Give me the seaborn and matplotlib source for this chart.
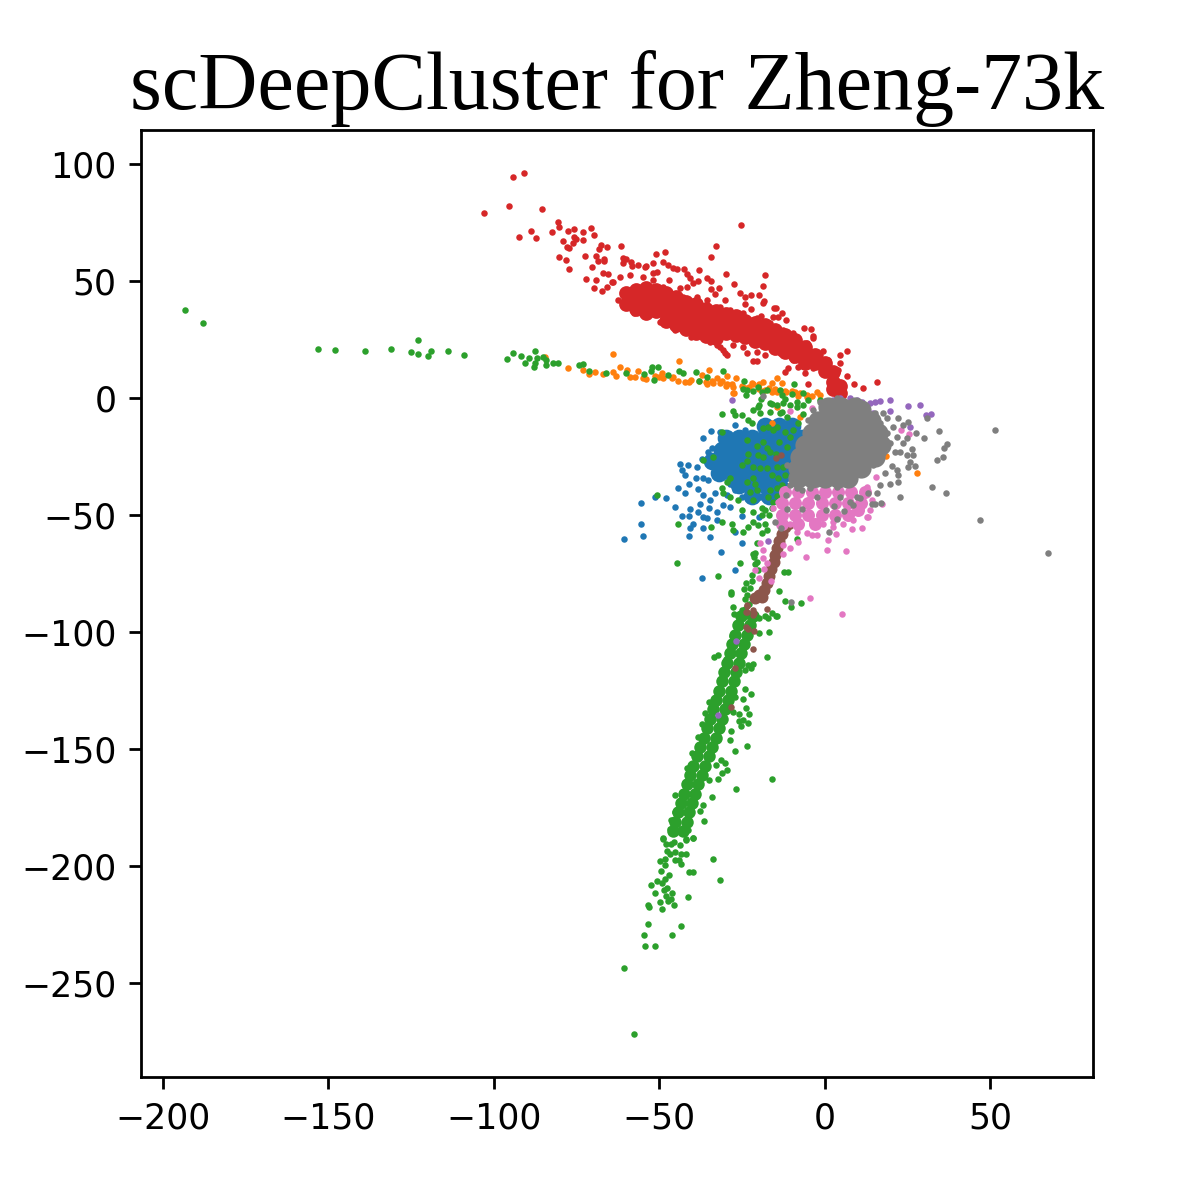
import numpy as np
import matplotlib
matplotlib.use("Agg")
import matplotlib.pyplot as plt
import seaborn as sns

# values: sparse points, then dense cores of each cluster
blue_pts = [(-55.7,-44.7),(-51.3,-42.2),(-47.9,-42.9),(-60.6,-60.2),(-55.4,-53.7),(-54.8,-59),(-45.3,-46.4),(-43.3,-50.4),
    (-40.8,-47.4),(-41,-50.4),(-38.4,-48.6),(-37.7,-45.3),(-44.3,-38.3),(-42.3,-40.7),(-41,-36.5),(-43.8,-28.3),(-43.1,-30.8),
    (-41.3,-28.8),(-42.3,-32.9),(-38.7,-29.3),(-38.9,-34.3),(-36.7,-34.3),(-35.2,-35),(-38.2,-39),(-36.7,-41.4),(-34.7,-43.6),
    (-34.9,-47.1),(-32.7,-48.6),(-36.7,-50.7),(-35.5,-51.4),(-32.7,-52.1),(-39.7,-53.6),(-40.8,-55.7),(-41,-59),(-36.7,-55.7),
    (-34.7,-59.5),(-27.3,-57.4),(-24.9,-62.1),(-31.3,-65.8),(-27.2,-73.5),(-37.2,-76.8),(-24.9,-50.4),(-20,-51),(-28.7,-46.4),
    (-36.7,-17.1),(-34.4,-14.1),(-31.7,-14.7),(-27.2,-11.5),(-24.1,-13.7),(-34.2,-21.5),(-35.2,-22.9),(-37.2,-26.2),(-29.7,-41.4),
    (-27.2,-39.3),(-25.1,-42.2),(-19.6,-42.2),(-28.7,-36.5),(-33.2,-40.7),(-30.7,-45.7)]
blue_core = [(-18,-12),(-14,-12),(-10,-12),(-30,-17),(-26,-17),(-22,-17),(-18,-17),(-14,-17),(-10,-17),(-7,-17),
    (-31,-22),(-27,-22),(-23,-22),(-19,-22),(-15,-22),(-11,-22),(-8,-22),(-34,-27),(-30,-27),(-26,-27),(-22,-27),(-18,-27),(-14,-27),(-10,-27),
    (-32,-32),(-28,-32),(-24,-32),(-20,-32),(-16,-32),(-12,-32),(-26,-37),(-22,-37),(-18,-37),(-14,-37),(-22,-42),(-17,-42)]

orange_pts = [(-84.6,17.7),(-77.6,12.7),(-73,12),(-71.2,10.1),(-69.3,11),(-66.9,10.1),(-63.9,11),(-63.2,9.5),(-63.9,18.9),
    (-61.9,13.4),(-59.9,12.2),(-58.9,9.1),(-57.4,9.1),(-56.4,11.7),(-53.9,8),(-51.3,9.4),(-49.3,10.5),(-48.8,8.4),(-46.3,8.4),
    (-44.5,7.4),(-44.2,15.7),(-42.3,6.7),(-40.3,7.7),(-37.2,9.8),(-34.9,12),(-29.7,9.5),(-35.7,6),(-33.7,6.3),(-31.7,6.3),
    (-29.7,6),(-32.7,8.4),(-26.7,8.4),(-27.7,4.8),(-27.5,2),(-21.6,6),(-18.6,7),(-14.6,8.7),(-13.1,6.5),(-16.1,2.7),(-11.6,2.7),
    (-7.5,2),(-2.5,2.7),(-5.5,1.3),(-16,-10.7),(27.8,-32),(18.6,-24.8),(-27.8,2),(-14.5,2.6),(-5.4,0.4),(-1.5,1.3),(-7.6,-8.1),
    (-14.5,-3.8),(-24,4.5),(-20,4),(-18,3.5),(-12,3),(-9,2.5),(-38,7.5),(-36,7),(-50,9),(-55,8.5),(-30,5),(-28,6),(-25,5),(-23,4.6),
    (-17,4.5),(-15,4),(-10,3),(-8,1),(-4,1),(-22,6.5),(-20,6),(-16,6.5),(-34,7.5),(-31,7.5),(-46,9),(-41,7)]

green_pts = [(-193.4,37.6),(-188,32),(-153,21),(-148,20.5),(-139,20),(-131,21),(-125,19.5),(-123,25),(-123,19),(-120,18),(-119,20),
    (-114,20),(-109,18.5),(-96.1,16.7),(-94.2,19.4),(-91.7,18),(-90.6,15),(-89.3,17.1),(-87.6,20),(-87.1,17.1),(-87.6,14.8),
    (-87.8,13.4),(-85.1,17.7),(-84.3,16.2),(-84.3,14.1),(-82,15),(-80.5,14.8),(-74.4,14.1),(-73,14.4),(-71.3,11.7),(-66.2,10.5),
    (-60.2,10.8),(-54.7,10.4),(-52.3,13.4),(-52.6,11.7),(-50.4,13.4),(-51.7,7.7),(-47.4,9.8),(-44,11.4),(-42.8,10.8),(-38.9,11),
    (-35.5,9.1),(-38,7.1),(-30.8,11.7),(-24.3,7.3),(-9.3,6.1),(-24.6,3.7),(-23.6,3.4),(-23.8,1.3),(-21.6,3),(-20.3,4.6),(-19.1,2.7),
    (-17.6,3.4),(-13.6,3.4),(-13.1,1.3),(-12.1,-0.2),(-10,1.6),(-6.5,2),(-31.2,-6.6),(-27.7,-5.4),(-27.2,-7.3),(-25,-7.3),
    (-21.6,-5.1),(-19.9,-3),(-19.4,-0.6),(-16.6,-2.3),(-14.6,-3),(-13.1,-5.9),(-8.5,-3.7),(-5,-0.9),(-6.5,-6.6),(-1.5,-0.9),
    (-23.1,-9.4),(-22.1,-10.8),(-20.1,-3.7),(-19.6,-6.5),(-16.1,-2.6),(-16.6,-5.8),(-12.6,-2.3),(-13.6,-6.5),(-10.5,-3),(-8.5,-1.6),
    (-6.5,-3),(-11.5,-8),(-18.6,-13),(-17.1,-12.2),(-15.6,-13.7),(-12,-14.4),(-9.5,-13.7),(-8,-10.8),(-14.6,-12.2),(-31.2,-14.4),
    (-23.4,-17.9),(-18.6,-18.7),(-13.8,-18.7),(-10.5,-16.5),(-7.5,-18),(-20.6,-20.5),(-17.6,-21.5),(-11.5,-20.8),(-23.1,-23.9),
    (-20.1,-24.4),(-18.6,-25.1),(-16.6,-23),(-14.8,-23.9),(-36.7,-26.5),(-33.7,-25.3),(-23.6,-26.9),(-24.9,-28.6),(-21.6,-29.3),
    (-19.6,-30),(-17.6,-30),(-14.6,-29.3),(-12.6,-29.3),(-16.1,-32.9),(-14.1,-34.3),(-21.6,-34.3),(-28.7,-34.3),(-29.7,-35.8),
    (-23.6,-35.8),(-21.1,-36.5),(-22.6,-40),(-20.6,-39.3),(-31.2,-38.6),(-30.7,-40.7),(-28.7,-42.2),(-26.2,-43.6),(-21.6,-43.6),
    (-16.6,-39.3),(-14.6,-38.6),(-17.1,-42.2),(-15.6,-44.3),(-19.1,-47.1),(-25.1,-47.9),(-21.6,-48.6),(-50.8,-41.4),(-44.3,-54),
    (-34.4,-55),(-31.2,-52.8),(-28.2,-53.6),(-27.7,-56.4),(-24.6,-57.1),(-23.1,-55),(-21.6,-52.8),(-20.1,-54.3),(-18.1,-53.6),
    (-17.6,-56.4),(-19.1,-57.8),(-20.6,-62.1),(-8.5,-60.4),(-21.6,-66.4),(-20.6,-70),(-44.8,-70.4),(-25.6,-70.6),(-32.2,-75.9),
    (-11.2,-74.5),(-20.1,-73.5),(-22.1,-75.6),(-23.8,-78.8),(-24.3,-81.6),(-28.4,-82.8),(-28.4,-83.8),(-13.8,-82.3),(-12,-86.7),
    (-7.3,-87.5),(-10.2,-89.2),(-27.9,-89.2),(-27.5,-92.3),(-14.6,-93.2),(-25.1,-90.6),
    (-21,-66),(-21.5,-68),(-21,-71),(-22,-78),(-22.5,-81),(-23.5,-84),(-24,-86),(-23,-88),(-24,-90),(-22,-93),(-23.5,-93),(-20,-94),
    (-16,-92),(-18,-93),(-12.5,-74.5),(-19,-50),(-18,-48),(-17,-50),(-16,-47),(-14.5,-42),(-13,-37),(-12,-33),
    (-26.7,-96.3),(-28,-101.7),(-19.8,-100.3),(-16.9,-100),(-17.2,-93.8),(-14.8,-92.9),(-33.4,-110.8),(-32.2,-109.6),(-29.9,-111.3),
    (-17.5,-110.8),(-23.1,-114.1),(-21.6,-113.8),(-22.3,-115.3),(-24.1,-116.3),(-24.1,-124.2),(-22.4,-126.2),(-24.6,-128.7),
    (-34.9,-129.8),(-27.2,-127.7),(-23.7,-132.5),(-22.8,-135.1),(-27.7,-134.1),(-26,-134.8),(-26,-137.9),(-24.6,-137.3),(-23.2,-139),
    (-25.2,-140),(-28.5,-142.2),(-28.7,-146.2),(-36.3,-134.5),(-37.2,-139.1),(-38.2,-144.8),(-23.4,-148.7),(-27.2,-150.9),
    (-40.1,-151.7),(-31.4,-154.4),(-30.1,-155.9),(-32.8,-156.6),(-29.7,-158.7),(-31.2,-160.1),(-32.2,-162.6),(-34.9,-163.3),
    (-41.8,-157.9),(-15.9,-162.7),(-26.9,-166.8),(-34,-170.4),(-45.2,-169.7),(-43.3,-168.3),(-36.7,-174),(-37.7,-176.5),(-36.6,-180.5),
    (-46.6,-180.4),(-46.8,-183.9),(-41.2,-184.6),(-48.8,-187.9),(-42,-188.3),(-39.7,-187.8),(-45.3,-176.8),
    (-48.8,-188.3),(-47.9,-190.3),(-46.4,-190.6),(-45.6,-189.7),(-43.7,-190.7),(-42,-188.8),(-39.8,-187.9),(-47.7,-193.5),(-46.9,-194.6),
    (-45.2,-193.9),(-43.6,-194.6),(-42,-194.6),(-33.8,-197),(-48.4,-196.7),(-49.9,-197.9),(-48.4,-199.6),(-45.4,-197.4),(-44.2,-197.4),
    (-43.4,-199.2),(-41,-202.6),(-39.8,-202.6),(-49.4,-202.1),(-47.1,-203.8),(-48.4,-205.3),(-50.8,-206.1),(-52.6,-207.8),(-49.2,-207),
    (-31.6,-205.7),(-47.7,-209.1),(-48.7,-210),(-51.3,-211.4),(-46.1,-211.3),(-47.9,-212.8),(-46.6,-213.8),(-47.4,-214.8),(-41.2,-213.3),
    (-49.9,-215.4),(-45.6,-216.4),(-53.4,-216.4),(-53.1,-217.4),(-49.2,-218.1),(-53.3,-224.5),(-43.4,-225.5),(-54.7,-229.5),(-46.2,-229.2),
    (-54.4,-234),(-51.2,-234.2),(-60.7,-243.5),(-57.6,-271.8)]
green_core = [(-25.3,-93),(-21.7,-93),(-26.3,-97),(-22.7,-97),(-27.1,-101),(-23.5,-101),(-28,-105),(-24.4,-105),(-28.8,-109),(-25.2,-109),
    (-29.6,-113),(-26,-113),(-30.4,-117),(-26.8,-117),(-31.2,-121),(-27.6,-121),(-32,-125),(-28.4,-125),(-32.9,-129),(-29.3,-129),
    (-33.8,-133),(-30.2,-133),(-34.7,-137),(-31.1,-137),(-35.6,-141),(-32,-141),(-36.6,-145),(-33,-145),(-37.7,-149),(-34.1,-149),
    (-38.7,-153),(-35.1,-153),(-39.8,-157),(-36.2,-157),(-40.8,-161),(-37.2,-161),(-41.8,-165),(-38.2,-165),(-42.7,-169),(-39.1,-169),
    (-43.6,-173),(-40,-173),(-44.5,-177),(-40.9,-177),(-45.4,-181),(-41.8,-181),(-45.8,-185),(-43,-185)]

red_pts = [(-102.9,78.9),(-94.1,94.4),(-90.9,96),(-95.3,82),(-85.5,80.6),(-92.3,69),(-88.8,71.2),(-87.3,68.4),(-82.4,71.1),(-80.6,75.3),
    (-80.2,73),(-77.5,71.4),(-75.7,72.2),(-73.2,70.9),(-70.6,72.6),(-69.6,69.6),(-79,67.1),(-75.8,68.7),(-75.2,67.8),(-73,67.4),
    (-76.2,66.1),(-77.8,64.7),(-77.2,64),(-80.3,60.4),(-78.2,59),(-77.2,55.1),(-72.5,60.8),(-68.1,63.5),(-67.5,65.4),(-65.8,64.7),
    (-61.5,65),(-69,60.5),(-68.4,58.5),(-66.7,59.4),(-66.7,58.5),(-70.4,56),(-72.3,50.7),(-69.1,50.3),(-69.7,46.9),(-51.1,61.5),
    (-48.4,62.5),(-32.9,65),(-34.3,60.2),(-25.3,73.8),(-38,54.8),(-29.8,52.8),(-18.1,52.5),(-27.4,48.6),(-18.7,48),(-60.9,59.7),
    (-60.1,59.4),(-61.1,57.5),(-58.7,58.3),(-56.6,56.8),(-58.2,56.4),(-54.4,55.8),(-53.9,56.4),(-52,57.5),(-49,58),(-50.8,54),
    (-52,53.3),(-47.5,56.8),(-46,55.4),(-44.8,55),(-42.5,55.1),(-41.6,53),(-40.6,51.1),(-38.2,50.1),(-35.7,51.1),(-34.5,50.1),
    (-39.8,49),(-41.8,47.3),(-43.8,47.1),(-47.2,50.4),(-34.3,46.4),(-31.9,46.9),(-33.2,44.3),(-30.2,42),(-25.6,44.7),(-24.1,43.3),
    (-22.2,44),(-20,44),(-18.3,41.6),(-18.6,40.4),(-24.2,40),(-22.2,38),(-15.5,38.6),(-14.8,38.6),(-12.9,36.2),(-15.8,34.5),
    (-14.3,34.5),(-19.4,35.2),(-11.7,33.3),(-6.3,30),(-4.1,29.5),(-3.5,26.6),(-3.7,25.5),(-0.5,20.1),(6.6,19.9),(4.6,18.5),(4.6,15),
    (6.6,9.5),(8.9,6),(11.4,4.3),(15.8,6.8),(4,12),(-5.1,6),(-12,11.2),(-21.6,15.7),(-20.4,15.7),(-30.2,19.4),(-31.7,21.9),
    (-63.9,49.7),(-61.9,51.8),(-58.9,52.6),(-54.9,51.8),(-51.8,50.4),(-48.8,47.6),(-42.8,43.3),(-38.7,43.3),(-35.7,41.9),(-31.7,39),
    (-28.7,37.6),(-24.6,36.2),(-20.6,34),(-16.6,31.9),(-12.6,29),(-9.5,27.6),(-5.5,23.4),(-1.5,18.4),(1,16.2),(3.6,11.2),(5.6,4.8),
    (-66.9,53.6),(-65.4,53),(-64.4,49.7),(-65.9,47.6),(-67.4,45.9),(-62.4,41.9),(-60.9,41.2),(-57.7,36.5),(-54.9,36.9),(-49.8,32.6),
    (-45.3,29),(-40.3,26.2),(-30.7,20.5),(-27.7,22.6),(-24.6,21.9),(-23.6,19.1),(-29.7,18.4),(-20.6,19.8),(-18.1,18.4),(-13.6,19.1),
    (-9.5,16.2),(-8,13.4),(-5.5,14.8),(-3.5,12.7),(-11,12.7),(-6,10.5),(-34.7,24),(-32.7,22.6)]
red_core = [(-60,45),(-60,40),(-57,46),(-57,42),(-57,38),(-54,47),(-54,42.5),(-54,38),(-54,36.5),(-51,46),(-51,41.5),(-51,37),
    (-48,45),(-48,41),(-48,36.5),(-48,33),(-45,43),(-45,38.5),(-45,34),(-45,31),(-42,41),(-42,37),(-42,33),(-42,29.5),
    (-39,40),(-39,36),(-39,32),(-39,28),(-36,38),(-36,34),(-36,30),(-36,26.5),(-33,37),(-33,33),(-33,29),(-33,25.5),
    (-30,36),(-30,32),(-30,28),(-27,35),(-27,31),(-27,27),(-24,33),(-24,29),(-24,26),(-21,32),(-21,28),(-21,24.5),
    (-18,31),(-18,27),(-18,23.5),(-15,29),(-15,25),(-15,21.5),(-12,27),(-12,23),(-12,19.5),(-9,25),(-9,21.5),(-9,18),
    (-6,22),(-6,18),(-6,15),(-3,18.5),(-3,15),(0,15),(0,11.5),(2.5,11),(2.5,7),(2.5,4),(4.5,5),(4.5,2)]

purple_pts = [(-28.2,-0.8),(19.6,-1),(25.1,-3.3),(28.7,-3),(30.4,-7.3),(32.2,-6.7),(19.7,-5.4),(25.7,-12.2),(13.6,-2.3),(15.1,-1.6),
    (16.6,-1.3),(11.1,-1.6),(12.1,-3),(4.6,0),(7.6,0),(2.5,-0.8),(9.6,-0.8),(14.6,-6.5),(-17.1,-61),(-26.9,-103.7),(-32.3,-135.3)]

brown_pts = [(-10.5,-54.7),(-14.9,-25.8),(-13.3,-24.4),(-23.6,-88.7),(-23.8,-91.3),(-21.6,-90.6),(-17.6,-90.3),(-21.6,-92.7),(-23.8,-98),
    (-23.1,-98.7),(-21.4,-99.6),(-21.7,-107),(-27.2,-115.3),(-28.5,-131.9),(-23.5,-88.5),(-23.6,-91.5),(-21.4,-92)]
brown_core = [(-12,-55),(-13,-58),(-14,-61),(-14.5,-64),(-15,-67),(-15.5,-70),(-16.2,-73),(-16.8,-76),(-17.5,-79),(-18.5,-82),(-20,-84),
    (-21,-85.5),(-19,-85)]

pink_pts = [(-10.5,-5.4),(-3.8,-4.4),(22.9,-13.7),(25.5,-15.5),(15.3,-33.6),(17.4,-45.3),(13.1,-51),(11.1,-55.7),(8.1,-56.1),(3.5,-58.1),
    (-4,-58.5),(-5.5,-57.8),(-2.5,-58.5),(0.8,-60.7),(0.5,-64.7),(6.4,-65.2),(-5.8,-67.8),(-8.2,-61.4),(-12.6,-62.8),(-10.5,-64),
    (-12.6,-66.4),(-19.6,-62.1),(-18.6,-64.7),(-18.8,-68.5),(-17.6,-70.6),(-18.4,-73.2),(-21.1,-73.5),(-19.8,-77),(-16.3,-78),(-4.6,-85.2),
    (5.1,-92.3),(2.5,-55),(-0.5,-53.6),(-4,-53),(12.6,-50.7),(8.6,-52.1),(5.6,-53.6),(12.6,-37.9),(14.1,-43.6),(-8.5,-57.1),(-15.6,-47.1),
    (-14.1,-44.3),(-12.6,-41.4),(-10.5,-53.6),(2.5,-52.8),(13.6,-47.9)]
pink_core = [(-12,-40),(-8,-40),(-4,-40),(0,-40),(4,-40),(8,-40),(12,-40),(-13,-45),(-9,-45),(-5,-45),(-1,-45),(3,-45),(7,-45),(11,-45),
    (-13,-50),(-9,-50),(-5,-50),(-1,-50),(3,-50),(7,-50),(10,-48),(-13,-54),(-8,-54),(-3,-54)]

gray_pts = [(51.4,-13.7),(47,-52),(67.5,-66),(31,-8.7),(34.4,-14),(37,-19.8),(36,-21.5),(35.6,-25.1),(33.8,-26.5),(30,-17.2),(27.4,-14.8),
    (25.2,-10.4),(23.7,-11.5),(22.2,-8.7),(18.7,-8.7),(17.7,-6.5),(20.7,-12.2),(21.7,-16.5),(24.7,-17.2),(23.7,-19.4),(21.2,-22.9),(22.7,-22.9),
    (24.7,-24.4),(26.2,-21.9),(26.7,-24.4),(25.7,-27.2),(27.3,-29),(25.2,-29.6),(32.3,-38.2),(36.5,-40.7),(22.6,-42.2),(22.2,-36),(19.7,-36.6),
    (22,-32.9),(21.7,-30.8),(20.2,-29),(18.2,-31.8),(16.6,-37.2),(15.6,-40.7),(13.1,-40.7),(17,-44.7),(15.1,-45.3),(14.1,-45.3),(10.6,-42.9),
    (9.6,-42.2),(8.6,-45.7),(7.6,-44.3),(5.8,-48.3),(4.6,-42.4),(2.8,-46.1),(0.2,-47.6),(3.6,-51.7),(1.2,-57.4),(-2.5,-42.2),(-4.5,-38.6),
    (-7,-39.3),(-8.5,-38.6),(-10.5,-37.2),(-11.8,-41.2),(-11.5,-47.4),(-6.8,-47.4),(-15.1,-52.8),(-13.2,-55.7),(-10.2,-87.3),(-18.8,0.9),
    (-11.5,-28.6),(0.5,-36.5),(3.6,-37.9),(6.6,-35),(10.6,-31.5),(14.6,-28.6),(17.7,-23.6),(19.7,-19.4),(18.7,-15.1),(16.6,-10.8),(15.1,-6.5),
    (-9.5,-33.6),(-7.5,-35),(-2.5,-36.5),(-9.5,-29.3),(-8.5,-25.1),(-7,-18),(-5,-9.4),(-3.5,-5.1),(-1.5,-1.6),(3.6,0),(8.6,-1.6),(11.6,-3.7)]
gray_core = [(1,-4),(5,-4),(9,-4),(11,-5),(-2,-10),(2,-10),(6,-10),(10,-10),(14,-10),(-4,-15),(0,-15),(4,-15),(8,-15),(12,-15),(16,-15),
    (-6,-20),(-2,-20),(2,-20),(6,-20),(10,-20),(14,-20),(17,-20),(-7.5,-25),(-3.5,-25),(0.5,-25),(4.5,-25),(8.5,-25),(12.5,-25),(15,-25),
    (-8,-30),(-4,-30),(0,-30),(4,-30),(8,-30),(11,-30),(-8,-34),(-4,-34),(0,-34),(4,-34),(7,-34)]

x_ticks = [-200, -150, -100, -50, 0, 50]
y_ticks = [-250, -200, -150, -100, -50, 0, 50, 100]

colors = sns.color_palette("tab10")

fig = plt.figure(figsize=(1196 / 250, 1192 / 250), dpi=250)
ax = fig.add_axes([141 / 1196, 115 / 1192, 952 / 1196, 947 / 1192])


def draw(points, color, size):
    pts = np.array(points)
    sns.scatterplot(x=pts[:, 0], y=pts[:, 1], color=color, s=size, linewidth=0, ax=ax)


# clusters go on in label order, later ones cover earlier ones
draw(blue_core, colors[0], 26)
draw(blue_pts, colors[0], 3.5)
draw(orange_pts, colors[1], 3.5)
draw(green_core, colors[2], 13)
draw(green_pts, colors[2], 3.5)
draw(red_core, colors[3], 18)
draw(red_pts, colors[3], 3.5)
draw(purple_pts, colors[4], 3.5)
draw(brown_core, colors[5], 12)
draw(brown_pts, colors[5], 3.5)
draw(pink_core, colors[6], 14)
draw(pink_pts, colors[6], 3.5)
draw(gray_core, colors[7], 34)
draw(gray_pts, colors[7], 3.5)

ax.set_xlim(-206.6, 81)
ax.set_ylim(-290, 114.5)
ax.set_xticks(x_ticks)
ax.set_yticks(y_ticks)
ax.set_title("scDeepCluster for Zheng-73k", fontsize=23.6, family="Liberation Serif")

plt.savefig("out.png", dpi=250)
plt.close()
